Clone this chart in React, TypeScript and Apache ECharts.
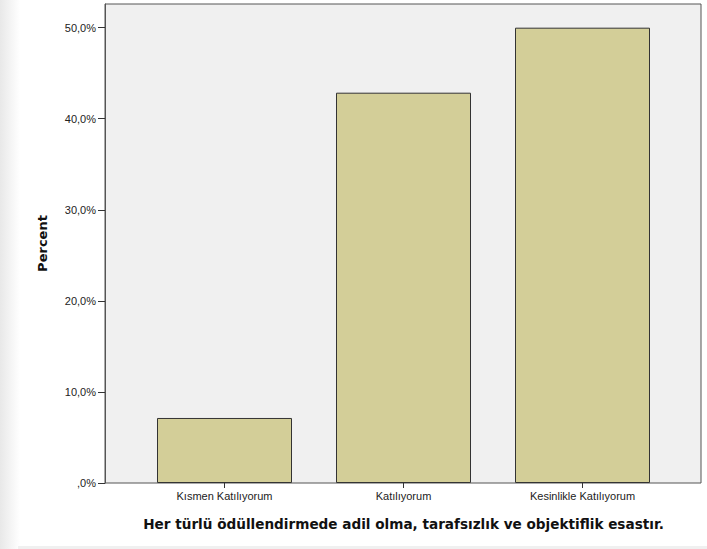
import React, { useEffect, useRef } from "react";
import * as echarts from "echarts";

const categories = ["Kısmen Katılıyorum", "Katılıyorum", "Kesinlikle Katılıyorum"];
const percentValues = [7.14, 42.86, 50.0];
const yTicks = [0, 10, 20, 30, 40, 50];
const xTitle = "Her türlü ödüllendirmede adil olma, tarafsızlık ve objektiflik esastır.";
const yTitle = "Percent";

export default function App() {
  const ref = useRef<HTMLDivElement>(null);
  useEffect(() => {
    if (!ref.current) return;
    const chart = echarts.init(ref.current, null, { renderer: "svg" });
    const fmt = (v: number) => (v === 0 ? ",0%" : v.toFixed(1).replace(".", ",") + "%");
    chart.setOption({
      animation: false,
      backgroundColor: "#ffffff",
      graphic: [
        {
          type: "rect",
          shape: { x: 0, y: 0, width: 20, height: 549 },
          style: {
            fill: new echarts.graphic.LinearGradient(0, 0, 1, 0, [
              { offset: 0, color: "#e8e8e8" },
              { offset: 1, color: "#ffffff" },
            ]),
          },
          silent: true,
          z: -10,
        },
        {
          type: "rect",
          shape: { x: 18, y: 546, width: 689, height: 3 },
          style: { fill: "#f0f0f0" },
          silent: true,
          z: -10,
        },
      ],
      grid: [
        {
          left: 105, right: 6, top: 4, bottom: 66,
          show: true, backgroundColor: "#f0f0f0", borderColor: "#555", borderWidth: 1,
        },
        { left: 135, right: 35, top: 4, bottom: 66 },
      ],
      xAxis: [
        { gridIndex: 0, type: "value", show: false, min: 0, max: 1 },
        {
          gridIndex: 1,
          type: "category",
          data: categories,
          axisLine: { show: false },
          axisTick: { show: true, alignWithLabel: true, length: 5, lineStyle: { color: "#333" } },
          axisLabel: { color: "#222", fontFamily: "Liberation Sans, Arial, sans-serif", fontSize: 11, margin: 7 },
          name: xTitle,
          nameLocation: "middle",
          nameGap: 34,
          nameTextStyle: { fontFamily: "DejaVu Sans, sans-serif", fontWeight: "bold", fontSize: 13.6, color: "#111" },
        },
      ],
      yAxis: [
        { gridIndex: 0, type: "value", show: false, min: 0, max: 1 },
        {
          gridIndex: 1,
          type: "value",
          min: 0,
          max: 52.6,
          interval: 10,
          offset: 30,
          splitLine: { show: false },
          axisLine: { show: true, lineStyle: { color: "#555" } },
          axisTick: { show: true, length: 7, lineStyle: { color: "#333" } },
          axisLabel: {
            color: "#222", fontFamily: "Liberation Sans, Arial, sans-serif", fontSize: 11, margin: 9,
            formatter: (v: number) => (yTicks.includes(v) ? fmt(v) : ""),
            showMaxLabel: false,
          },
          name: yTitle,
          nameLocation: "middle",
          nameGap: 56,
          nameTextStyle: { fontFamily: "DejaVu Sans, sans-serif", fontWeight: "bold", fontSize: 13, color: "#111" },
        },
      ],
      series: [
        {
          type: "bar",
          xAxisIndex: 1,
          yAxisIndex: 1,
          data: percentValues,
          barWidth: 135,
          itemStyle: { color: "#d3ce98", borderColor: "#333", borderWidth: 1 },
        },
      ],
    });
    return () => chart.dispose();
  }, []);
  return (
    <div
      ref={ref}
      style={{ position: "fixed", left: 0, top: 0, width: 707, height: 549 }}
    />
  );
}
